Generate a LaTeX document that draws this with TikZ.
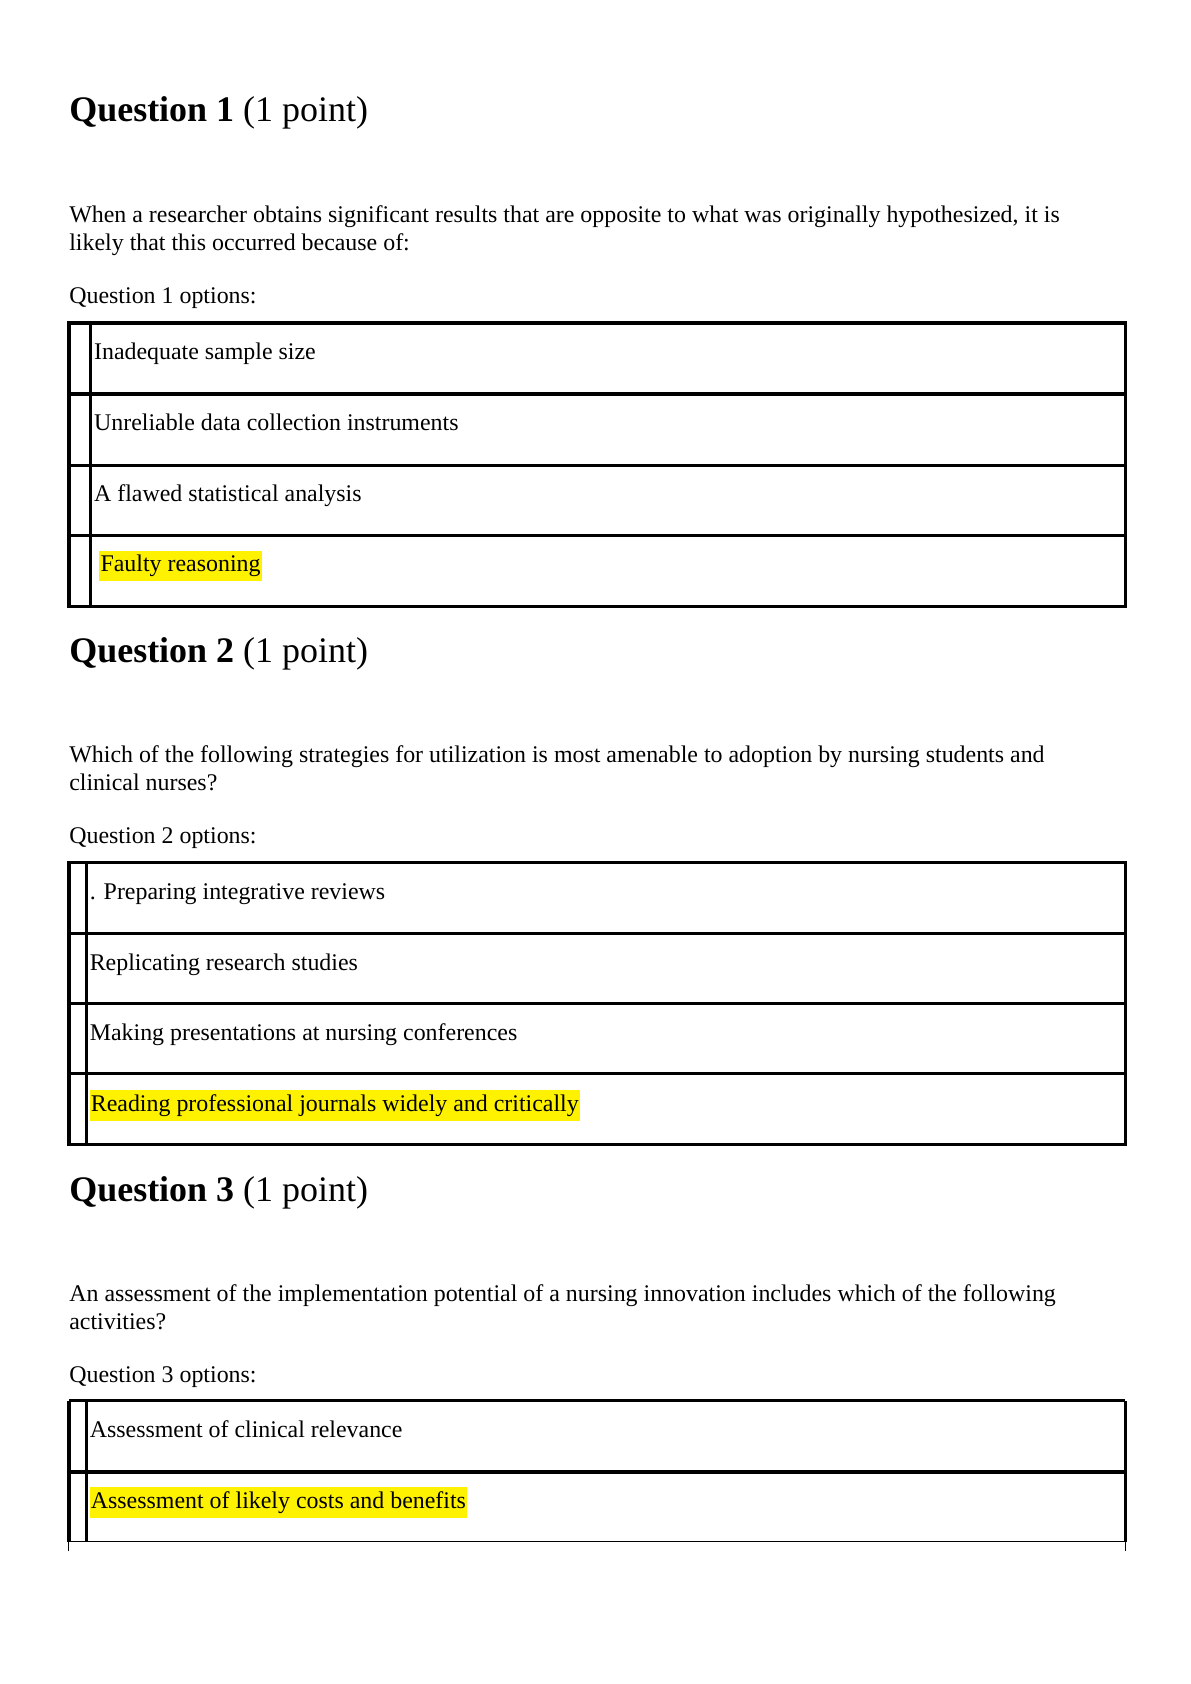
\documentclass[tikz,border=0pt]{standalone}
\usepackage{fontspec}
\setmainfont{Liberation Serif}
\begin{document}
\begin{tikzpicture}
[x=0.5pt,y=-0.5pt,
  headDecorate/.style={anchor=base west,inner sep=0pt,font=\fontsize{16.7}{20}\selectfont},%
  textDecorate/.style={anchor=base west,inner sep=0pt,font=\fontsize{11.1}{13}\selectfont},%
  markDecorate/.style={textDecorate,fill=yellow,inner ysep=2pt,inner xsep=0.5pt},%
  boxDecorate/.style={line width=1.5pt}]
\useasboundingbox (0,0) rectangle (1106,1564);
%% question 1
\node (h1) at (64,113) [headDecorate] {\textbf{Question 1} (1 point)};
\node (q1a) at (64,207) [textDecorate] {When a researcher obtains significant results that are opposite to what was originally hypothesized, it is};
\node (q1b) at (64,233) [textDecorate] {likely that this occurred because of:};
\node (o1) at (64,282) [textDecorate] {Question 1 options:};
\draw[boxDecorate] (64,300) rectangle (1045,563);
\draw[boxDecorate] (84,300) -- (84,563);
\foreach \y in {366,432,497}
  \draw[boxDecorate] (64,\y) -- (1045,\y);
\node (a11) at (87,334) [textDecorate] {Inadequate sample size};
\node (a12) at (87,400) [textDecorate] {Unreliable data collection instruments};
\node (a13) at (87,466) [textDecorate] {A flawed statistical analysis};
\node (a14) at (92,531) [markDecorate] {Faulty reasoning};
%% question 2
\node (h2) at (64,615) [headDecorate] {\textbf{Question 2} (1 point)};
\node (q2a) at (64,708) [textDecorate] {Which of the following strategies for utilization is most amenable to adoption by nursing students and};
\node (q2b) at (64,734) [textDecorate] {clinical nurses?};
\node (o2) at (64,783) [textDecorate] {Question 2 options:};
\draw[boxDecorate] (64,801) rectangle (1045,1063);
\draw[boxDecorate] (80,801) -- (80,1063);
\foreach \y in {867,932,997}
  \draw[boxDecorate] (64,\y) -- (1045,\y);
\node (a21) at (83,835) [textDecorate] {. Preparing integrative reviews};
\node (a22) at (83,901) [textDecorate] {Replicating research studies};
\node (a23) at (83,966) [textDecorate] {Making presentations at nursing conferences};
\node (a24) at (83,1032) [markDecorate] {Reading professional journals widely and critically};
%% question 3
\node (h3) at (64,1116) [headDecorate] {\textbf{Question 3} (1 point)};
\node (q3a) at (64,1209) [textDecorate] {An assessment of the implementation potential of a nursing innovation includes which of the following};
\node (q3b) at (64,1235) [textDecorate] {activities?};
\node (o3) at (64,1284) [textDecorate] {Question 3 options:};
\draw[boxDecorate] (64,1301) -- (1045,1301);
\draw[boxDecorate] (64,1367) -- (1045,1367);
\draw[boxDecorate] (64,1301) -- (64,1432);
\draw[boxDecorate] (80,1301) -- (80,1432);
\draw[boxDecorate] (1045,1301) -- (1045,1432);
\draw[thin] (64,1432) -- (1045,1432);
\draw[thin] (64,1432) -- (64,1440);
\draw[thin] (1045,1432) -- (1045,1440);
\node (a31) at (83,1335) [textDecorate] {Assessment of clinical relevance};
\node (a32) at (83,1401) [markDecorate] {Assessment of likely costs and benefits};
\end{tikzpicture}
\end{document}
